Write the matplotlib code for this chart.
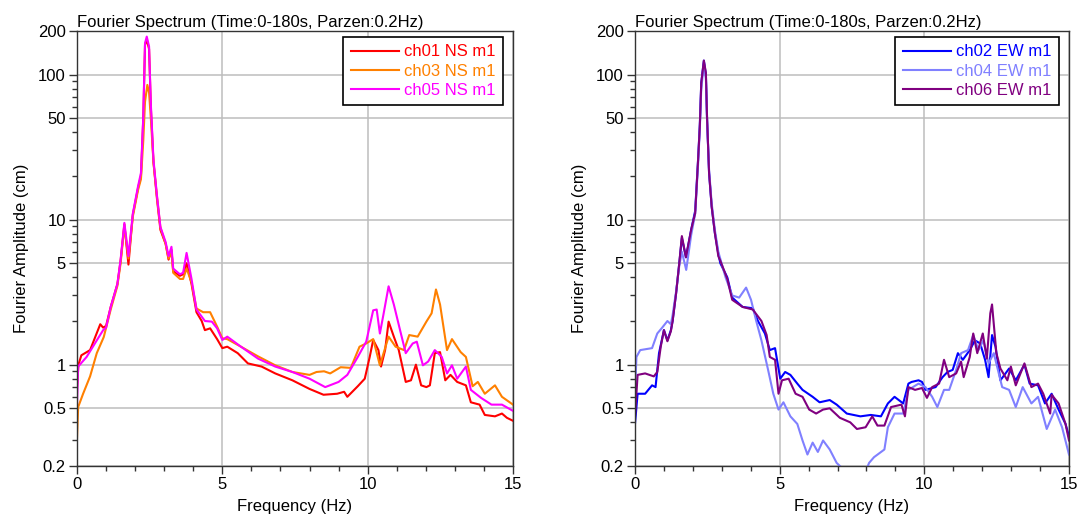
import matplotlib
matplotlib.use("Agg")
import matplotlib.pyplot as plt
from matplotlib.ticker import FixedLocator, FixedFormatter, MultipleLocator

plt.rcParams["font.family"] = ["Liberation Sans", "DejaVu Sans"]

title = "Fourier Spectrum (Time:0-180s, Parzen:0.2Hz)"

# (frequency Hz, Fourier amplitude cm)
ch01 = [(0, 0.7), (0.05, 1.0), (0.15, 1.16), (0.45, 1.26), (0.8, 1.9), (0.9, 1.8), (1.0, 1.85),
        (1.16, 2.5), (1.39, 3.6), (1.5, 5.2), (1.63, 9.3), (1.77, 4.9), (1.92, 10.8), (2.1, 16.5),
        (2.2, 20), (2.28, 50), (2.34, 160), (2.4, 175), (2.48, 150), (2.54, 60), (2.63, 25),
        (2.75, 14), (2.87, 8.5), (3.05, 6.8), (3.15, 5.3), (3.25, 6.2), (3.31, 4.4), (3.54, 4.1),
        (3.65, 4.2), (3.77, 5.0), (3.94, 3.6), (4.11, 2.3), (4.29, 2.0), (4.4, 1.73), (4.58, 1.78),
        (4.82, 1.5), (5.0, 1.3), (5.17, 1.33), (5.53, 1.2), (5.88, 1.02), (6.35, 0.97), (6.82, 0.87),
        (7.41, 0.78), (8.0, 0.68), (8.48, 0.62), (8.95, 0.63), (9.19, 0.65), (9.3, 0.6), (9.66, 0.71),
        (9.9, 0.8), (10.07, 1.13), (10.19, 1.48), (10.37, 1.26), (10.46, 0.97), (10.6, 1.26),
        (10.72, 1.98), (10.9, 1.56), (11.07, 1.26), (11.31, 0.76), (11.49, 0.78), (11.66, 1.0),
        (11.84, 0.72), (12.02, 0.7), (12.14, 0.72), (12.31, 1.2), (12.49, 1.22), (12.67, 0.78),
        (12.85, 0.85), (13.08, 0.76), (13.38, 0.72), (13.55, 0.55), (13.85, 0.53), (14.03, 0.45),
        (14.38, 0.44), (14.62, 0.46), (14.79, 0.43), (15.0, 0.41)]

ch03 = [(0, 0.31), (0.04, 0.51), (0.21, 0.63), (0.45, 0.83), (0.68, 1.2), (0.92, 1.55), (1.16, 2.4),
        (1.39, 3.5), (1.5, 5.0), (1.63, 9.0), (1.77, 5.4), (1.92, 10.5), (2.1, 16), (2.2, 19),
        (2.28, 35), (2.34, 65), (2.42, 85), (2.48, 75), (2.54, 50), (2.63, 25), (2.75, 14.5),
        (2.87, 8.8), (3.05, 6.8), (3.15, 5.4), (3.25, 6.0), (3.31, 4.3), (3.54, 3.9), (3.65, 3.9),
        (3.77, 4.6), (3.94, 3.7), (4.11, 2.44), (4.34, 2.3), (4.58, 2.3), (4.82, 1.83), (5.0, 1.52),
        (5.17, 1.5), (5.64, 1.33), (6.23, 1.14), (6.82, 0.99), (7.41, 0.89), (8.0, 0.85), (8.24, 0.89),
        (8.5, 0.9), (8.71, 0.87), (9.07, 0.96), (9.42, 0.95), (9.72, 1.33), (9.95, 1.4), (10.19, 1.5),
        (10.42, 0.99), (10.72, 1.56), (10.96, 1.33), (11.25, 1.26), (11.43, 1.6), (11.72, 1.56),
        (12.02, 1.98), (12.2, 2.26), (12.35, 3.3), (12.49, 2.6), (12.73, 1.26), (12.9, 1.5),
        (13.2, 1.22), (13.38, 1.13), (13.61, 0.71), (13.79, 0.76), (14.03, 0.63), (14.38, 0.72),
        (14.62, 0.6), (15.0, 0.53)]

ch05 = [(0, 0.53), (0.04, 0.97), (0.33, 1.13), (0.68, 1.47), (0.9, 1.73), (1.0, 1.8), (1.16, 2.5),
        (1.39, 3.6), (1.5, 5.3), (1.63, 9.5), (1.77, 5.6), (1.92, 11), (2.1, 17), (2.2, 21),
        (2.28, 51), (2.34, 165), (2.4, 183), (2.48, 156), (2.54, 63), (2.63, 26), (2.75, 14.7),
        (2.87, 8.9), (3.05, 7.0), (3.15, 5.6), (3.25, 6.5), (3.31, 4.6), (3.54, 4.2), (3.65, 4.3),
        (3.77, 5.9), (3.94, 3.9), (4.11, 2.4), (4.4, 2.0), (4.64, 1.98), (4.82, 1.78), (5.0, 1.48),
        (5.17, 1.56), (5.64, 1.33), (6.23, 1.1), (6.82, 0.97), (7.41, 0.89), (8.0, 0.8), (8.54, 0.7),
        (9.0, 0.76), (9.3, 0.85), (9.66, 1.13), (9.95, 1.44), (10.19, 2.37), (10.31, 2.4),
        (10.42, 1.64), (10.54, 2.2), (10.72, 3.47), (10.9, 2.6), (11.13, 1.68), (11.31, 1.2),
        (11.55, 1.4), (11.69, 1.44), (11.9, 0.99), (12.08, 1.05), (12.31, 1.26), (12.55, 1.13),
        (12.73, 0.87), (12.9, 0.99), (13.08, 0.8), (13.38, 0.97), (13.55, 0.67), (13.9, 0.59),
        (14.26, 0.53), (14.62, 0.53), (15.0, 0.48)]

ch02 = [(0, 0.39), (0.09, 0.63), (0.35, 0.63), (0.59, 0.72), (0.71, 0.7), (0.83, 1.2), (1.0, 1.73),
        (1.12, 1.47), (1.24, 1.73), (1.3, 2.0), (1.42, 3.1), (1.53, 5.0), (1.62, 7.5), (1.76, 5.5),
        (1.94, 8.5), (2.08, 11.5), (2.18, 26), (2.24, 45), (2.29, 88), (2.38, 125), (2.45, 100),
        (2.49, 50), (2.56, 21), (2.65, 12.3), (2.76, 8.1), (2.88, 5.8), (2.95, 5.0), (3.19, 4.0),
        (3.36, 2.9), (3.72, 2.5), (4.07, 2.45), (4.25, 2.0), (4.49, 1.64), (4.66, 1.26), (4.84, 1.3),
        (5.02, 0.8), (5.19, 0.89), (5.37, 0.85), (5.61, 0.74), (5.79, 0.67), (6.14, 0.6), (6.38, 0.55),
        (6.73, 0.57), (6.97, 0.53), (7.32, 0.46), (7.79, 0.44), (8.15, 0.45), (8.5, 0.44), (8.74, 0.54),
        (8.97, 0.6), (9.27, 0.54), (9.45, 0.74), (9.56, 0.76), (9.8, 0.78), (9.92, 0.76), (10.04, 0.67),
        (10.39, 0.7), (10.63, 0.82), (10.8, 0.89), (10.98, 0.92), (11.16, 1.2), (11.33, 1.08),
        (11.57, 1.26), (11.75, 1.47), (11.93, 1.4), (12.1, 1.08), (12.22, 0.82), (12.34, 1.6),
        (12.46, 1.33), (12.63, 0.78), (12.93, 0.94), (13.16, 0.78), (13.46, 1.0), (13.64, 0.74),
        (13.93, 0.72), (14.17, 0.54), (14.4, 0.63), (14.64, 0.49), (14.88, 0.39), (15.0, 0.32)]

ch04 = [(0, 0.63), (0.05, 1.13), (0.18, 1.26), (0.59, 1.3), (0.77, 1.64), (0.94, 1.8), (1.12, 2.0),
        (1.24, 1.9), (1.3, 2.2), (1.42, 3.2), (1.53, 4.8), (1.62, 6.0), (1.77, 4.5), (1.94, 7.8),
        (2.08, 11), (2.18, 24), (2.24, 42), (2.29, 80), (2.38, 118), (2.45, 95), (2.49, 48), (2.56, 22),
        (2.65, 13), (2.76, 8.5), (2.88, 6.0), (3.13, 4.0), (3.36, 3.0), (3.6, 2.9), (3.84, 3.4),
        (4.01, 2.8), (4.19, 2.0), (4.37, 1.47), (4.6, 0.92), (4.78, 0.63), (4.96, 0.49), (5.13, 0.55),
        (5.37, 0.44), (5.61, 0.39), (5.79, 0.3), (5.96, 0.24), (6.14, 0.29), (6.32, 0.25), (6.5, 0.3),
        (6.73, 0.26), (6.97, 0.21), (7.2, 0.19), (7.6, 0.17), (8.0, 0.19), (8.09, 0.21), (8.26, 0.23),
        (8.62, 0.26), (8.74, 0.37), (8.97, 0.46), (9.27, 0.46), (9.45, 0.67), (9.8, 0.74), (10.04, 0.7),
        (10.27, 0.6), (10.45, 0.51), (10.68, 0.67), (10.86, 0.67), (11.1, 0.92), (11.27, 1.2),
        (11.51, 1.26), (11.69, 1.6), (11.87, 1.26), (12.04, 1.47), (12.22, 1.02), (12.4, 1.2),
        (12.69, 0.7), (12.93, 0.67), (13.16, 0.51), (13.4, 0.7), (13.7, 0.54), (13.93, 0.6),
        (14.23, 0.36), (14.52, 0.49), (14.76, 0.37), (15.0, 0.24)]

ch06 = [(0, 0.44), (0.09, 0.85), (0.35, 0.87), (0.65, 0.83), (0.77, 0.89), (0.89, 1.33), (1.0, 1.73),
        (1.12, 1.45), (1.24, 1.7), (1.3, 2.0), (1.42, 3.1), (1.53, 5.0), (1.62, 7.7), (1.76, 5.5),
        (1.94, 8.5), (2.08, 11.1), (2.18, 25.6), (2.24, 44), (2.29, 87), (2.38, 125), (2.45, 103),
        (2.49, 51), (2.56, 21), (2.65, 12.3), (2.76, 8.1), (2.88, 5.6), (2.95, 5.2), (3.19, 3.9),
        (3.36, 2.8), (3.72, 2.5), (4.07, 2.4), (4.37, 2.0), (4.55, 1.6), (4.66, 1.13), (4.84, 1.08),
        (4.96, 0.63), (5.08, 0.78), (5.31, 0.8), (5.55, 0.63), (5.79, 0.6), (6.02, 0.49), (6.26, 0.46),
        (6.5, 0.49), (6.73, 0.5), (7.08, 0.43), (7.44, 0.4), (7.67, 0.36), (7.97, 0.37), (8.2, 0.44),
        (8.38, 0.38), (8.62, 0.38), (8.85, 0.51), (9.21, 0.53), (9.33, 0.44), (9.45, 0.7), (9.68, 0.67),
        (9.92, 0.69), (10.09, 0.59), (10.27, 0.7), (10.51, 0.74), (10.68, 1.08), (10.86, 0.82),
        (11.1, 0.87), (11.27, 1.05), (11.36, 0.82), (11.57, 1.13), (11.69, 1.64), (11.83, 1.2),
        (12.02, 1.64), (12.16, 1.1), (12.28, 2.26), (12.34, 2.6), (12.49, 1.2), (12.63, 0.94),
        (12.87, 0.78), (12.99, 0.97), (13.16, 0.72), (13.46, 1.02), (13.7, 0.7), (13.93, 0.74),
        (14.11, 0.63), (14.35, 0.46), (14.4, 0.62), (14.64, 0.54), (14.88, 0.39), (15.0, 0.3)]

left_series = [("ch01 NS m1", ch01, "#FF0000"),
               ("ch03 NS m1", ch03, "#FF8000"),
               ("ch05 NS m1", ch05, "#FF00FF")]
right_series = [("ch02 EW m1", ch02, "#0000FF"),
                ("ch04 EW m1", ch04, "#8080FF"),
                ("ch06 EW m1", ch06, "#800080")]

y_major = [0.2, 0.5, 1, 5, 10, 50, 100, 200]
y_major_lbl = ["0.2", "0.5", "1", "5", "10", "50", "100", "200"]
y_minor = [0.3, 0.4, 0.6, 0.7, 0.8, 0.9, 2, 3, 4, 6, 7, 8, 9, 20, 30, 40, 60, 70, 80, 90]

FS = 12
W, H = 1082, 516
fig = plt.figure(figsize=(W / 100, H / 100), dpi=100)
ax1 = fig.add_axes([77 / W, 50 / H, 436 / W, 435 / H])
ax2 = fig.add_axes([635 / W, 50 / H, 434 / W, 435 / H])


def draw(ax, series):
    for name, pts, col in series:
        f = [p[0] for p in pts]
        a = [p[1] for p in pts]
        ax.plot(f, a, color=col, lw=1.5, label=name)
    ax.set_yscale("log")
    ax.set_xlim(0, 15)
    ax.set_ylim(0.2, 200)
    ax.yaxis.set_major_locator(FixedLocator(y_major))
    ax.yaxis.set_major_formatter(FixedFormatter(y_major_lbl))
    ax.yaxis.set_minor_locator(FixedLocator(y_minor))
    ax.yaxis.set_minor_formatter(FixedFormatter([]))
    ax.xaxis.set_major_locator(MultipleLocator(5))
    ax.xaxis.set_minor_locator(MultipleLocator(1))
    ax.grid(True, which="major", color="#BDBDBD", lw=1.1)
    ax.set_axisbelow(True)
    ax.tick_params(which="major", direction="out", length=6, width=1, color="#333333",
                   labelsize=FS, pad=2)
    ax.tick_params(which="minor", direction="out", length=3.5, width=1, color="#333333")
    for s in ax.spines.values():
        s.set_color("#333333")
        s.set_linewidth(1)
    ax.set_title(title, loc="left", fontsize=FS, pad=3)
    ax.set_xlabel("Frequency (Hz)", fontsize=FS, labelpad=5)
    ax.set_ylabel("Fourier Amplitude (cm)", fontsize=FS)
    ax.yaxis.set_label_coords(-0.11, 0.5)
    bb = ax.get_position()
    dx = 10 / (bb.width * W)
    dy = 6 / (bb.height * H)
    leg = ax.legend(loc="upper right", bbox_to_anchor=(1 - dx, 1 - dy), borderaxespad=0,
                    fontsize=FS, fancybox=False, framealpha=1, edgecolor="black",
                    handlelength=2.9, handletextpad=0.3, labelspacing=0.25, borderpad=0.45)
    leg.get_frame().set_linewidth(1.2)
    for txt, (_, _, col) in zip(leg.get_texts(), series):
        txt.set_color(col)


draw(ax1, left_series)
draw(ax2, right_series)

fig.savefig("out.png", dpi=100)
